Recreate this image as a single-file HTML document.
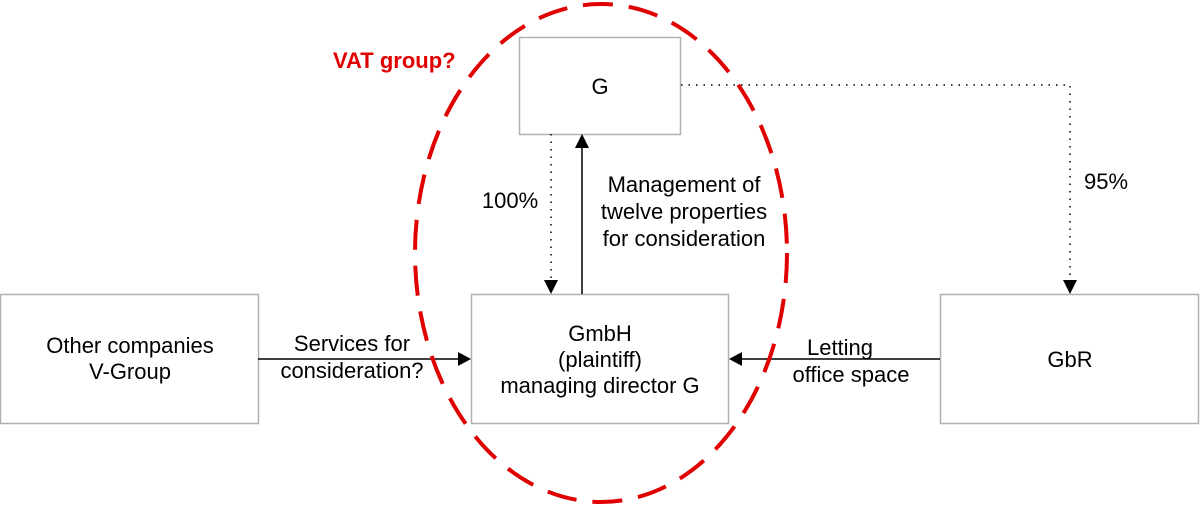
<!DOCTYPE html>
<html><head><style>html,body{margin:0;padding:0;background:#fff;}svg{display:block}</style></head>
<body>
<svg width="1200" height="507" xmlns="http://www.w3.org/2000/svg" font-family="Liberation Sans, sans-serif" font-size="22">
<rect width="1200" height="507" fill="#fff"/>
<g fill="#fff" stroke="#b0b0b0" stroke-width="1.5">
<rect x="519.5" y="37.5" width="161" height="97"/>
<rect x="471.5" y="294.5" width="257" height="129"/>
<rect x="0.5" y="294.5" width="258" height="129"/>
<rect x="940.5" y="294.5" width="258" height="129"/>
</g>
<g stroke="#000" stroke-width="1.5" fill="none">
<line x1="551" y1="134" x2="551" y2="280" stroke-dasharray="1.5,6"/>
<polyline points="681,85 1070,85 1070,280" stroke-dasharray="1.5,6"/>
<line x1="582" y1="294" x2="582" y2="148"/>
<line x1="258" y1="359" x2="458" y2="359"/>
<line x1="940" y1="359" x2="742" y2="359"/>
</g>
<g fill="#000">
<polygon points="544,280 558,280 551,294"/>
<polygon points="1063,280 1077,280 1070,294"/>
<polygon points="575,148 589,148 582,134"/>
<polygon points="458,352 458,366 471,359"/>
<polygon points="742,352 742,366 729,359"/>
</g>
<ellipse cx="601" cy="253" rx="186" ry="249" fill="none" stroke="#e00000" stroke-width="4" stroke-dasharray="30,16"/>
<g fill="#000" text-anchor="middle">
<text x="600" y="94">G</text>
<text x="600" y="341">GmbH</text>
<text x="600" y="367">(plaintiff)</text>
<text x="600" y="393">managing director G</text>
<text x="130" y="353">Other companies</text>
<text x="130" y="379">V-Group</text>
<text x="1070" y="367">GbR</text>
<text x="684" y="192">Management of</text>
<text x="684" y="219">twelve properties</text>
<text x="684" y="246">for consideration</text>
<text x="510" y="208">100%</text>
<text x="1106" y="189">95%</text>
<text x="352" y="351">Services for</text>
<text x="352" y="378">consideration?</text>
<text x="840" y="355">Letting</text>
<text x="851" y="382">office space</text>
</g>
<text x="333" y="68" fill="#e00000" font-weight="bold" font-size="22">VAT group?</text>
</svg>
</body></html>
